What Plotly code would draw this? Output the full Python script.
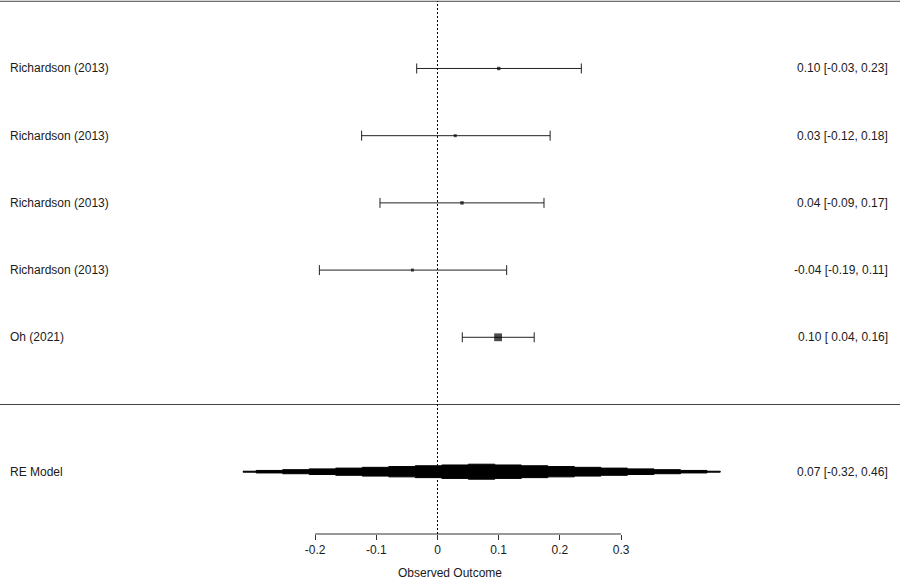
import numpy as np
import plotly.graph_objects as go

# ---- data ----
studies = ["Richardson (2013)", "Richardson (2013)", "Richardson (2013)", "Richardson (2013)", "Oh (2021)"]
est = [0.100, 0.029, 0.040, -0.041, 0.099]
ci_lb = [-0.034, -0.124, -0.094, -0.193, 0.0405]
ci_ub = [0.235, 0.184, 0.174, 0.113, 0.158]
rows = [5, 4, 3, 2, 1]

re_label = "RE Model"
re_est = 0.072
re_lb = -0.318
re_ub = 0.462
re_row = -1

xticks = [-0.2, -0.1, 0, 0.1, 0.2, 0.3]
xlabel = "Observed Outcome"

FONT = "Liberation Sans, Arial, sans-serif"
TXT = "#1a1a1a"

fig = go.Figure()

# study weights -> marker sizes
se = (np.array(ci_ub) - np.array(ci_lb)) / 3.92
sizes = 0.235 / se

fig.add_trace(go.Scatter(
    x=est, y=rows, mode="markers",
    marker=dict(symbol="square", size=sizes, color="black", line=dict(width=0)),
    error_x=dict(type="data", symmetric=False,
                 array=(np.array(ci_ub) - np.array(est)).tolist(),
                 arrayminus=(np.array(est) - np.array(ci_lb)).tolist(),
                 color="#222222", thickness=1, width=5),
    hoverinfo="skip", showlegend=False))

# RE model stepped shape
n = 19
pts = np.linspace(re_lb, re_ub, n)
step = pts[1] - pts[0]
half_n = (n - 1) / 2
H = 7.5 / 67.2
xs_top, ys_top = [], []
for i, c in enumerate(pts):
    k = abs(i - half_n)
    h = max(H * (1 - k / (half_n + 0.6)), 0.004)
    left = max(c - step / 2, re_lb)
    right = min(c + step / 2, re_ub)
    xs_top += [left, right]
    ys_top += [re_row + h, re_row + h]
xs = xs_top + xs_top[::-1]
ys = ys_top + [2 * re_row - y for y in ys_top[::-1]]
fig.add_trace(go.Scatter(x=xs, y=ys, mode="lines", fill="toself",
                         fillcolor="black", line=dict(color="black", width=1),
                         hoverinfo="skip", showlegend=False))

# labels
annotations = []
for s, r, e, l, u in zip(studies, rows, est, ci_lb, ci_ub):
    annotations.append(dict(x=8 / 900, xref="paper", y=r, yref="y", text=s,
                            xanchor="left", yanchor="middle", showarrow=False,
                            font=dict(family=FONT, size=12, color=TXT)))
    annotations.append(dict(x=890 / 900, xref="paper", y=r, yref="y",
                            text=f"{e:.2f} [{l:5.2f}, {u:.2f}]",
                            xanchor="right", yanchor="middle", showarrow=False,
                            font=dict(family=FONT, size=12, color=TXT)))
annotations.append(dict(x=8 / 900, xref="paper", y=re_row, yref="y", text=re_label,
                        xanchor="left", yanchor="middle", showarrow=False,
                        font=dict(family=FONT, size=12, color=TXT)))
annotations.append(dict(x=890 / 900, xref="paper", y=re_row, yref="y",
                        text=f"{re_est:.2f} [{re_lb:.2f}, {re_ub:.2f}]",
                        xanchor="right", yanchor="middle", showarrow=False,
                        font=dict(family=FONT, size=12, color=TXT)))

Y_BOTTOM = -1.927
Y_TOP = 6.019

shapes = [
    dict(type="line", xref="paper", x0=0, x1=1, yref="y", y0=6, y1=6,
         line=dict(color="#444444", width=1)),
    dict(type="line", xref="paper", x0=0, x1=1, yref="y", y0=0, y1=0,
         line=dict(color="#444444", width=1)),
    dict(type="line", xref="x", x0=0, x1=0, yref="y", y0=Y_BOTTOM, y1=6,
         line=dict(color="black", width=1, dash="2px,2px")),
    dict(type="line", xref="x", x0=xticks[0], x1=xticks[-1], yref="paper", y0=0, y1=0,
         line=dict(color="#333333", width=1)),
]

x_left = (0 - 437.5) / 612
x_right = (900 - 437.5) / 612

fig.update_layout(
    width=900, height=582,
    margin=dict(l=0, r=0, t=0, b=48),
    plot_bgcolor="white", paper_bgcolor="white",
    xaxis=dict(range=[x_left, x_right], showgrid=False, zeroline=False, showline=False,
               tickmode="array", tickvals=xticks, ticktext=[f"{t:g}" for t in xticks],
               ticks="outside", ticklen=5, tickcolor="#333333", tickwidth=1,
               tickfont=dict(family=FONT, size=12, color=TXT),
               title=dict(text=xlabel, font=dict(family=FONT, size=12, color=TXT), standoff=12)),
    yaxis=dict(range=[Y_BOTTOM, Y_TOP], showgrid=False, zeroline=False, showline=False,
               showticklabels=False, ticks=""),
    annotations=annotations, shapes=shapes,
)

fig.write_html("out.html", config={"displayModeBar": False},
               post_script="document.body.style.margin='0';document.body.style.padding='0';document.body.style.overflow='hidden';")
